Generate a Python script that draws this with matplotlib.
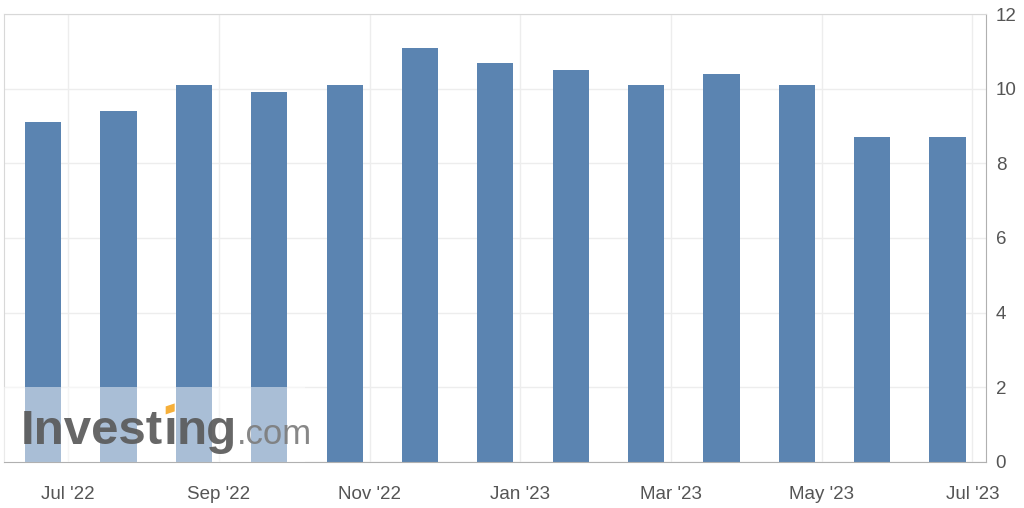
import matplotlib.pyplot as plt
from matplotlib.patches import Rectangle, Polygon
from matplotlib.transforms import offset_copy

plt.rcParams['font.family'] = ['Liberation Sans', 'DejaVu Sans']

values = [9.1, 9.4, 10.1, 9.9, 10.1, 11.1, 10.7, 10.5, 10.1, 10.4, 10.1, 8.7, 8.7]
tick_labels = ["Jul '22", "Sep '22", "Nov '22", "Jan '23", "Mar '23", "May '23", "Jul '23"]
y_ticks = [0, 2, 4, 6, 8, 10, 12]

bar_color = '#5b84b1'

fig = plt.figure(figsize=(10.24, 5.08), dpi=100)
ax = fig.add_axes([0.0039, 0.0906, 0.959, 0.8818])

x = list(range(len(values)))
ax.bar(x, values, width=0.48, color=bar_color, zorder=2)

# gridlines / month ticks sit a third of a step right of the bars
tick_pos = [i + 0.33 for i in range(0, len(values), 2)]
ax.set_xticks(tick_pos)
ax.set_xticklabels(tick_labels)
ax.set_yticks(y_ticks)
ax.set_xlim(-0.52, 12.51)
ax.set_ylim(0, 12)

ax.yaxis.tick_right()
ax.grid(True, color='#ededed', linewidth=1, zorder=0)
ax.tick_params(axis='both', length=0, labelsize=13.5, labelcolor='#555555')
ax.tick_params(axis='x', pad=17)
ax.tick_params(axis='y', pad=7)
for side in ['left', 'top']:
    ax.spines[side].set_color('#d8d8d8')
for side in ['right', 'bottom']:
    ax.spines[side].set_color('#b0b0b0')

# watermark: pale box plus "Investing.com" logo with an orange i-dot
ax.add_patch(Rectangle((0, 0), 0.307, 2 / 12, transform=ax.transAxes,
                       facecolor='white', alpha=0.48, edgecolor='none', zorder=3))
renderer = fig.canvas.get_renderer()
logo_size = 35.5
logo_parts = [('Invest', 'bold', logo_size, '#5a5a5a'),
              ('\u0131', 'bold', logo_size, '#5a5a5a'),
              ('ng', 'bold', logo_size, '#5a5a5a'),
              ('.com', 'normal', 25, '#7d7d7d')]
x0, y0 = 0.0175, 0.04
x_px = 0
dot_box = None
for txt, weight, size, col in logo_parts:
    tr = offset_copy(ax.transAxes, fig=fig, x=x_px, y=0, units='dots')
    t = ax.text(x0, y0, txt, transform=tr, fontweight=weight, fontsize=size,
                color=col, alpha=0.92, zorder=4)
    bb = t.get_window_extent(renderer)
    if txt == '\u0131':
        dot_box = bb
    x_px += bb.width
# slanted orange dot over the dotless i
em = logo_size * fig.dpi / 72
baseline = ax.transAxes.transform((x0, y0))[1]
cx = (dot_box.x0 + dot_box.x1) / 2
bottom = baseline + 0.52 * em + 4
w = 4.5
pts = [(cx - w, bottom), (cx + w, bottom + 3), (cx + w, bottom + 11), (cx - w, bottom + 8)]
ax.add_patch(Polygon(pts, closed=True, transform=None, facecolor='#f5a623',
                     alpha=0.9, edgecolor='none', zorder=4))

fig.savefig('out.png', dpi=100)
